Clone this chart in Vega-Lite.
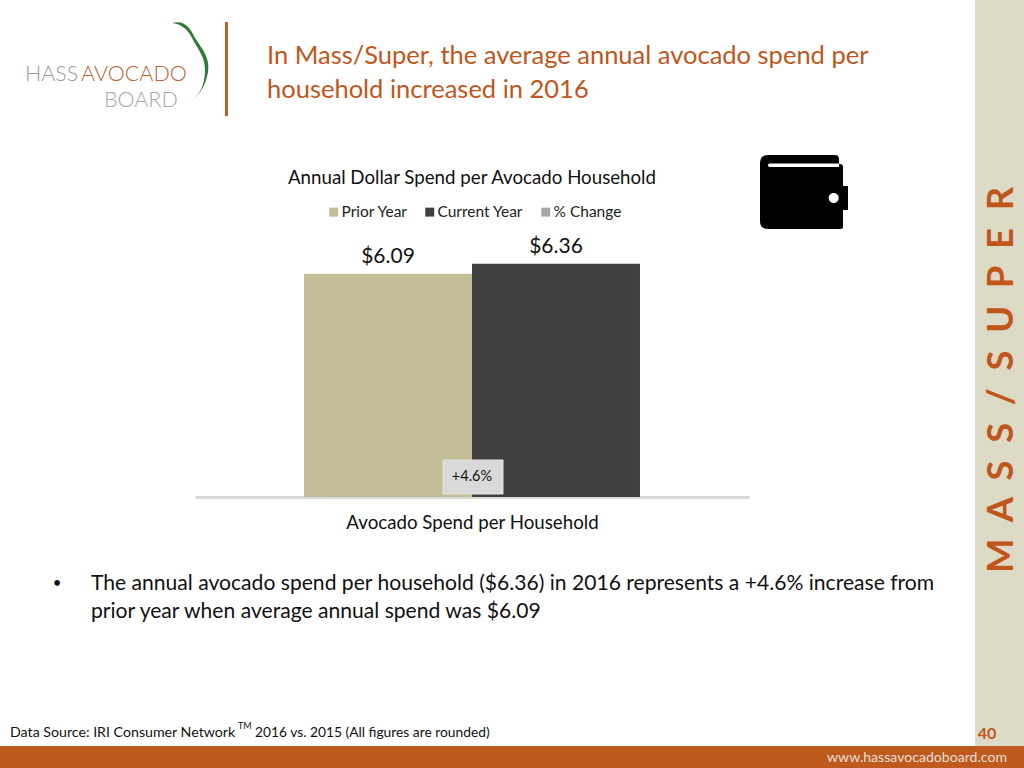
{"$schema":"https://vega.github.io/schema/vega-lite/v6.json","autosize":"none","width":554,"height":275,"padding":{"left":195,"top":222,"right":275,"bottom":271},"background":"white",
"title":{"text":"Annual Dollar Spend per Avocado Household","font":"Lato","fontSize":18.7,"fontWeight":"normal","color":"#111111","anchor":"middle","offset":-188},
"config":{"view":{"stroke":null},"text":{"font":"Lato"}},
"layer":[
{"data":{"values":[{"series":"Prior Year","value":6.09},{"series":"Current Year","value":6.36}]},
"layer":[
{"mark":{"type":"bar"},"encoding":{"x":{"field":"series","type":"nominal","sort":null,"scale":{"domain":["Prior Year","Current Year"],"paddingInner":0,"paddingOuter":0.649},"axis":{"labels":false,"ticks":false,"domainColor":"#d9d9d9","domainWidth":3,"title":"Avocado Spend per Household","titleFont":"Lato","titleFontSize":18.7,"titleFontWeight":"normal","titleColor":"#111111","titlePadding":16}},"y":{"field":"value","type":"quantitative","scale":{"domain":[0,7.5],"nice":false},"axis":null},"color":{"field":"series","type":"nominal","scale":{"domain":["Prior Year","Current Year","% Change"],"range":["#c4bd97","#404040","#a6a6a6"]},"legend":{"orient":"none","legendX":131,"legendY":-18,"direction":"horizontal","columns":3,"title":null,"symbolType":"square","symbolSize":80,"symbolStrokeWidth":0,"labelFont":"Lato","labelFontSize":15.5,"labelOffset":0,"labelColor":"#222222","columnPadding":14}}}},
{"mark":{"type":"text","baseline":"middle","fontSize":21,"dy":-17,"color":"#111111"},"encoding":{"x":{"field":"series","type":"nominal","sort":null},"y":{"field":"value","type":"quantitative"},"text":{"field":"value","type":"quantitative","format":"$.2f"}}}
]},
{"data":{"values":[{"change":"+4.6%"}]},"layer":[
{"mark":{"type":"rect","fill":"#d9d9d9","stroke":"#e4e4e4"},"encoding":{"x":{"value":248},"x2":{"value":308},"y":{"value":238},"y2":{"value":272}}},
{"mark":{"type":"text","fontSize":14.5,"color":"#111111","baseline":"middle"},"encoding":{"x":{"value":277},"y":{"value":255},"text":{"field":"change"}}}
]},
{"data":{"values":[{"heading":"In Mass/Super, the average annual avocado spend per","heading2":"household increased in 2016","body1":"The annual avocado spend per household ($6.36) in 2016 represents a +4.6% increase from","body2":"prior year when average annual spend was $6.09","source":"Data Source: IRI Consumer Network","tm":"TM","source2":"2016 vs. 2015 (All figures are rounded)","page":"40","url":"www.hassavocadoboard.com","side":"M\u00a0\u00a0A\u00a0\u00a0S\u00a0\u00a0S\u00a0\u00a0/\u00a0\u00a0S\u00a0\u00a0U\u00a0\u00a0P\u00a0\u00a0E\u00a0\u00a0R"}]},"layer":[
{"mark":{"type":"rect","fill":"#dddac5"},"encoding":{"x":{"value":780},"x2":{"value":829},"y":{"value":-222},"y2":{"value":524}}},
{"mark":{"type":"rect","fill":"#bf5a1e"},"encoding":{"x":{"value":-195},"x2":{"value":829},"y":{"value":524},"y2":{"value":546}}},
{"mark":{"type":"rect","fill":"#bd5f26"},"encoding":{"x":{"value":30},"x2":{"value":33},"y":{"value":-200},"y2":{"value":-106}}},
{"mark":{"type":"text","align":"left","baseline":"middle","fontSize":25.5,"color":"#c0561c"},"encoding":{"x":{"value":72},"y":{"value":-166},"text":{"field":"heading"}}},
{"mark":{"type":"text","align":"left","baseline":"middle","fontSize":25.5,"color":"#c0561c"},"encoding":{"x":{"value":72},"y":{"value":-132},"text":{"field":"heading2"}}},
{"mark":{"type":"text","align":"left","baseline":"middle","fontSize":21.1,"color":"#111111"},"encoding":{"x":{"value":-104},"y":{"value":362},"text":{"field":"body1"}}},
{"mark":{"type":"text","align":"left","baseline":"middle","fontSize":21.1,"color":"#111111"},"encoding":{"x":{"value":-104},"y":{"value":390},"text":{"field":"body2"}}},
{"mark":{"type":"text","align":"center","baseline":"middle","fontSize":15,"color":"#111111","text":"•"},"encoding":{"x":{"value":-138},"y":{"value":361}}},
{"mark":{"type":"text","align":"left","baseline":"middle","fontSize":14.2,"color":"#111111"},"encoding":{"x":{"value":-185},"y":{"value":511},"text":{"field":"source"}}},
{"mark":{"type":"text","align":"left","baseline":"middle","fontSize":9,"color":"#111111"},"encoding":{"x":{"value":43},"y":{"value":504},"text":{"field":"tm"}}},
{"mark":{"type":"text","align":"left","baseline":"middle","fontSize":13.8,"color":"#111111"},"encoding":{"x":{"value":60},"y":{"value":511},"text":{"field":"source2"}}},
{"mark":{"type":"text","align":"center","baseline":"middle","fontSize":16,"fontWeight":"bold","color":"#c0561c"},"encoding":{"x":{"value":792},"y":{"value":512},"text":{"field":"page"}}},
{"mark":{"type":"text","align":"center","baseline":"middle","fontSize":14.1,"color":"#eadfd6"},"encoding":{"x":{"value":722},"y":{"value":536},"text":{"field":"url"}}},
{"mark":{"type":"text","align":"center","baseline":"middle","angle":270,"fontSize":36.4,"fontWeight":"bold","color":"#c0561c"},"encoding":{"x":{"value":807},"y":{"value":158},"text":{"field":"side"}}},
{"mark":{"type":"point","filled":true,"opacity":1,"size":4,"fill":"#000000","stroke":null,"shape":"M-36,-37 L31,-37 Q35,-37 35,-33 L35,-28 L36,-28 Q39,-28 39,-25 L39,-6 L44,-6 L44,18 L39,18 L39,35 Q39,37 37,37 L-36,37 Q-44,37 -44,29 L-44,-29 Q-44,-37 -36,-37 Z"},"encoding":{"x":{"value":609},"y":{"value":-30}}},
{"mark":{"type":"point","filled":true,"opacity":1,"size":4,"fill":"#ffffff","stroke":null,"shape":"M-35,-28.5 L35,-28.5 L35,-25 L-35,-25 Q-37,-27 -35,-28.5 Z M24.7,6 A5,5 0 1 0 34.7,6 A5,5 0 1 0 24.7,6 Z"},"encoding":{"x":{"value":609},"y":{"value":-30}}},
{"mark":{"type":"point","filled":true,"opacity":1,"size":4,"fill":"#2f7a38","stroke":null,"shape":"M-18,-37 C-5,-40 0,-32 5,-22 C13,-10 20,-2 18,12 C16,25 10,33 4,39 C13,30 15,20 15,8 C14,-5 7,-12 2,-22 C-3,-32 -10,-36 -18,-37 Z"},"encoding":{"x":{"value":-5},"y":{"value":-162}}},
{"mark":{"type":"text","align":"left","baseline":"middle","fontSize":21.5,"fontWeight":300,"color":"#9a9a9a","text":"HASS"},"encoding":{"x":{"value":-170},"y":{"value":-147}}},
{"mark":{"type":"text","align":"left","baseline":"middle","fontSize":21.5,"fontWeight":300,"color":"#b5653a","text":"AVOCADO"},"encoding":{"x":{"value":-114},"y":{"value":-147}}},
{"mark":{"type":"text","align":"left","baseline":"middle","fontSize":21.5,"fontWeight":300,"color":"#a8a8a8","text":"BOARD"},"encoding":{"x":{"value":-91},"y":{"value":-121}}}
]}
]}
